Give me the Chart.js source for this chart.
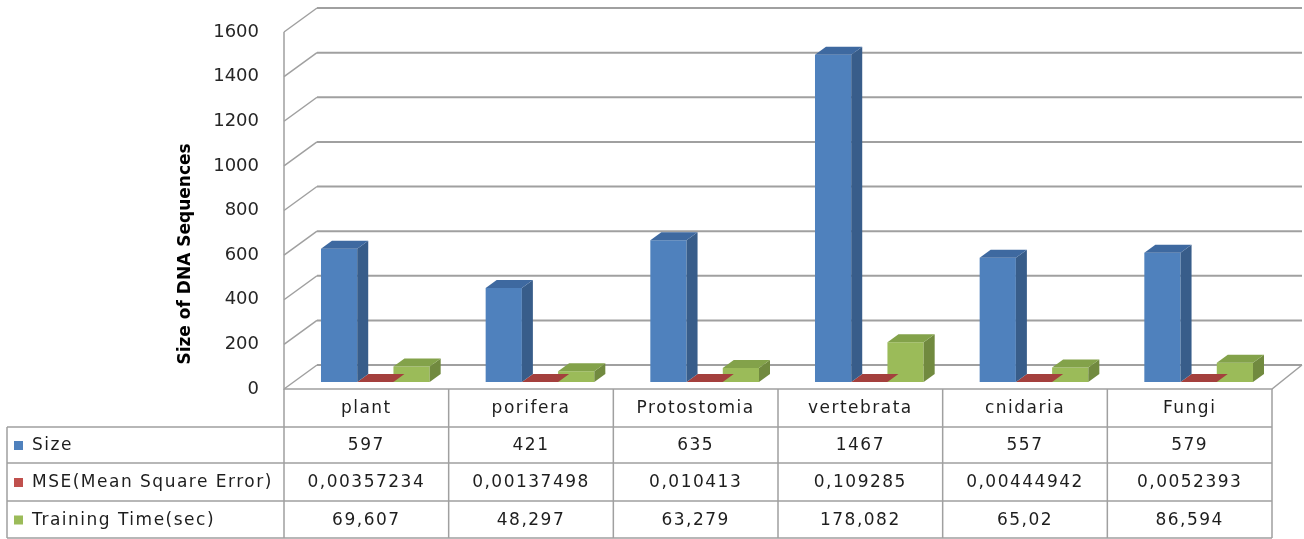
<!DOCTYPE html>
<html>
<head>
<meta charset="utf-8">
<script src="https://cdn.jsdelivr.net/npm/chart.js@4.4.0/dist/chart.umd.min.js"></script>
<style>
  html, body { margin: 0; padding: 0; background: #fff; }
  #wrap { width: 1304px; height: 539px; position: relative; }
</style>
</head>
<body>
<div id="wrap"><canvas id="dnaChart"></canvas></div>
<script>
// data
const categories = ['plant', 'porifera', 'Protostomia', 'vertebrata', 'cnidaria', 'Fungi'];
const sizeValues = [597, 421, 635, 1467, 557, 579];
const mseValues = [0.00357234, 0.00137498, 0.010413, 0.109285, 0.00444942, 0.0052393];
const trainingTimes = [69.607, 48.297, 63.279, 178.082, 65.02, 86.594];
const seriesNames = ['Size', 'MSE(Mean Square Error)', 'Training Time(sec)'];
const yTicks = [0, 200, 400, 600, 800, 1000, 1200, 1400, 1600];

// colours: front, side, top
const faces = [
    { front: '#4F81BD', side: '#385D8A', top: '#3E69A0' },
    { front: '#C0504D', side: '#8C3836', top: '#A4403D' },
    { front: '#9BBB59', side: '#718A3F', top: '#83A24A' }
];
const DEPTH = { dx: 11, dy: -8 };      // bar depth
const FRONT = { dx: -9, dy: 7 };       // front plane offset from bar plane
const BACK = { dx: 24, dy: -17 };      // back wall offset from bar plane
const GRID = '#a0a0a0';
const FONT = '"DejaVu Sans", sans-serif';

function fmt(v) {
    return String(v).replace('.', ',');
}

function poly(ctx, pts, fill) {
    ctx.beginPath();
    ctx.moveTo(pts[0][0], pts[0][1]);
    for (let i = 1; i < pts.length; i++) ctx.lineTo(pts[i][0], pts[i][1]);
    ctx.closePath();
    ctx.fillStyle = fill;
    ctx.fill();
}

const wallsPlugin = {
    id: 'walls',
    beforeDatasetsDraw(chart) {
        const ctx = chart.ctx;
        const area = chart.chartArea;
        const y = chart.scales.y;
        const backRight = Math.min(area.right + BACK.dx, chart.width - 2);
        ctx.save();
        ctx.strokeStyle = GRID;
        yTicks.forEach(v => {
            const yb = y.getPixelForValue(v);
            ctx.lineWidth = 1.5;
            ctx.beginPath();
            ctx.moveTo(area.left + FRONT.dx, yb + FRONT.dy);
            ctx.lineTo(area.left + BACK.dx, yb + BACK.dy);
            ctx.stroke();
            ctx.lineWidth = 2;
            ctx.beginPath();
            ctx.moveTo(area.left + BACK.dx, yb + BACK.dy);
            ctx.lineTo(backRight, yb + BACK.dy);
            ctx.stroke();
        });
        ctx.lineWidth = 1.5;
        // front left edge
        ctx.beginPath();
        ctx.moveTo(area.left + FRONT.dx, area.top + FRONT.dy);
        ctx.lineTo(area.left + FRONT.dx, area.bottom + FRONT.dy);
        // floor front and right edges
        ctx.lineTo(area.right + FRONT.dx, area.bottom + FRONT.dy);
        ctx.lineTo(backRight, area.bottom + BACK.dy);
        ctx.stroke();
        ctx.restore();

        // axis title
        ctx.save();
        ctx.translate(186, 254);
        ctx.rotate(-Math.PI / 2);
        ctx.font = 'bold 17px ' + FONT;
        ctx.fillStyle = '#000';
        ctx.textAlign = 'center';
        ctx.textBaseline = 'middle';
        ctx.fillText('Size of DNA Sequences', 0, 0);
        ctx.restore();
    },
    afterDatasetDraw(chart, args) {
        const ctx = chart.ctx;
        const c = faces[args.index];
        ctx.save();
        args.meta.data.forEach(bar => {
            const p = bar.getProps(['x', 'y', 'base', 'width'], true);
            const l = p.x - p.width / 2, r = p.x + p.width / 2;
            const t = Math.min(p.y, p.base), b = Math.max(p.y, p.base);
            poly(ctx, [[r, t], [r + DEPTH.dx, t + DEPTH.dy], [r + DEPTH.dx, b + DEPTH.dy], [r, b]], c.side);
            poly(ctx, [[l, t], [l + DEPTH.dx, t + DEPTH.dy], [r + DEPTH.dx, t + DEPTH.dy], [r, t]], c.top);
        });
        ctx.restore();
    },
    afterDraw(chart) {
        const ctx = chart.ctx;
        const area = chart.chartArea;
        const x = chart.scales.x;
        const band = (area.right - area.left) / categories.length;
        const top = area.bottom + FRONT.dy;
        const rows = [top, top + 38, top + 74, top + 112, top + 149];
        const left = 7;
        const edges = categories.map((_, i) => x.getPixelForValue(i) - band / 2 + FRONT.dx);
        edges.push(area.right + FRONT.dx);
        const rowText = [sizeValues, mseValues, trainingTimes];

        ctx.save();
        ctx.strokeStyle = GRID;
        ctx.lineWidth = 1.5;
        ctx.beginPath();
        edges.forEach(ex => { ctx.moveTo(ex, top); ctx.lineTo(ex, rows[4]); });
        ctx.moveTo(left, rows[1]); ctx.lineTo(left, rows[4]);
        for (let r = 1; r < rows.length; r++) {
            ctx.moveTo(left, rows[r]);
            ctx.lineTo(edges[edges.length - 1], rows[r]);
        }
        ctx.stroke();

        ctx.font = '17px ' + FONT;
        ctx.letterSpacing = '1.5px';
        ctx.fillStyle = '#1e1e1e';
        ctx.textBaseline = 'middle';
        ctx.textAlign = 'center';
        categories.forEach((name, i) => {
            ctx.fillText(name, (edges[i] + edges[i + 1]) / 2, (rows[0] + rows[1]) / 2 + 1);
        });
        seriesNames.forEach((name, s) => {
            const cy = (rows[s + 1] + rows[s + 2]) / 2 + 1;
            ctx.fillStyle = faces[s].front;
            ctx.fillRect(14, cy - 5, 9, 9);
            ctx.fillStyle = '#1e1e1e';
            ctx.textAlign = 'left';
            ctx.fillText(name, 32, cy);
            ctx.textAlign = 'center';
            rowText[s].forEach((v, i) => {
                ctx.fillText(fmt(v), (edges[i] + edges[i + 1]) / 2, cy);
            });
        });
        ctx.letterSpacing = '0px';
        ctx.restore();
    }
};

new Chart(document.getElementById('dnaChart'), {
    type: 'bar',
    data: {
        labels: categories,
        datasets: [
            { label: seriesNames[0], data: sizeValues, backgroundColor: faces[0].front },
            { label: seriesNames[1], data: mseValues, backgroundColor: faces[1].front },
            { label: seriesNames[2], data: trainingTimes, backgroundColor: faces[2].front }
        ]
    },
    options: {
        responsive: true,
        maintainAspectRatio: false,
        animation: false,
        layout: { padding: { left: 0, top: 25, right: 23, bottom: 157 } },
        datasets: { bar: { categoryPercentage: 0.66, barPercentage: 1.0, borderWidth: 0 } },
        plugins: { legend: { display: false }, tooltip: { enabled: false } },
        scales: {
            x: { display: false },
            y: {
                min: 0,
                max: 1600,
                afterBuildTicks: s => { s.ticks = yTicks.map(v => ({ value: v })); },
                afterFit: s => {
                    s.width = 293;
                    s.paddingTop = 10;
                    s.paddingBottom = 10;
                },
                grid: { display: false, drawTicks: false },
                border: { display: false },
                ticks: {
                    padding: 34,
                    labelOffset: 7,
                    color: '#262626',
                    font: { family: FONT, size: 18 },
                    format: { useGrouping: false }
                }
            }
        }
    },
    plugins: [wallsPlugin]
});
</script>
</body>
</html>
